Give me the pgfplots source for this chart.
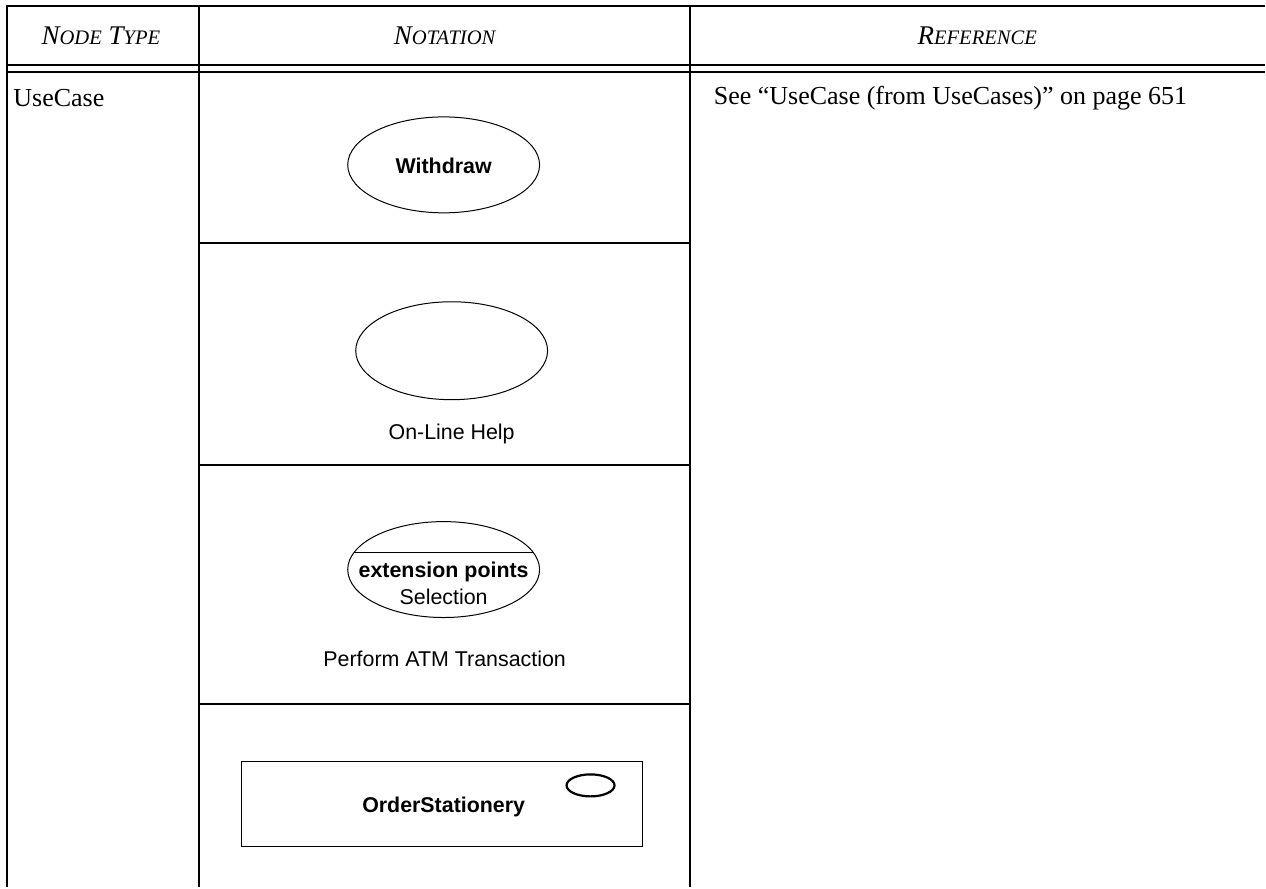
\documentclass[border=0pt]{standalone}
\usepackage{fontspec}
\setmainfont{Liberation Serif}
\newfontfamily\sans{Liberation Sans}
\usepackage{pgfplots}
\pgfplotsset{compat=1.18}
\begin{document}
\begin{tikzpicture}
\begin{axis}[
  scale only axis, width=633pt, height=444pt,
  xmin=0, xmax=1266, ymin=0, ymax=888, y dir=reverse,
  hide axis, clip=false,
]
\path (axis cs:0,0) rectangle (axis cs:1266,888);
% table frame
\addplot[black, line width=1pt] coordinates {(7,6) (1266,6)};
\addplot[black, line width=1pt] coordinates {(7,65) (1266,65)};
\addplot[black, line width=1pt] coordinates {(7,72) (1266,72)};
\addplot[black, line width=1pt] coordinates {(7,5.5) (7,888)};
\addplot[black, line width=1pt] coordinates {(199,5.5) (199,888)};
\addplot[black, line width=1pt] coordinates {(691,5.5) (691,888)};
\addplot[black, line width=1pt] coordinates {(199,243) (691,243)};
\addplot[black, line width=1pt] coordinates {(199,465) (691,465)};
\addplot[black, line width=1pt] coordinates {(199,705) (691,705)};
% header
\node[font=\fontsize{13.5}{15}\selectfont\itshape] at (axis cs:101,36) {N{\fontsize{10.3}{12}\selectfont ODE} T{\fontsize{10.3}{12}\selectfont YPE}};
\node[font=\fontsize{13.5}{15}\selectfont\itshape] at (axis cs:445,36) {N{\fontsize{10.3}{12}\selectfont OTATION}};
\node[font=\fontsize{13.5}{15}\selectfont\itshape] at (axis cs:978,36) {R{\fontsize{10.3}{12}\selectfont EFERENCE}};
% body text
\node[anchor=west, font=\fontsize{13}{15}\selectfont, inner sep=0pt] at (axis cs:13,98) {UseCase};
\node[anchor=west, font=\fontsize{13}{15}\selectfont, inner sep=0pt] at (axis cs:714,98) {See ``UseCase (from UseCases)'' on page 651};
% notation 1
\draw[line width=0.5pt] (axis cs:444,165) ellipse [x radius=96, y radius=48];
\node[font=\sans\bfseries\fontsize{10.7}{12}\selectfont] at (axis cs:444,166) {Withdraw};
% notation 2
\draw[line width=0.5pt] (axis cs:452,351) ellipse [x radius=96, y radius=49];
\node[font=\sans\fontsize{10.7}{12}\selectfont] at (axis cs:452,434) {On-Line Help};
% notation 3
\draw[line width=0.5pt] (axis cs:444,570) ellipse [x radius=96, y radius=48];
\addplot[black, line width=0.5pt] coordinates {(354,553) (534,553)};
\node[font=\sans\bfseries\fontsize{10.7}{12}\selectfont] at (axis cs:444,572) {extension points};
\node[font=\sans\fontsize{10.7}{12}\selectfont] at (axis cs:444,597) {Selection};
\node[font=\sans\fontsize{10.7}{12}\selectfont] at (axis cs:445,659) {Perform ATM Transaction};
% notation 4
\addplot[black, line width=0.5pt] coordinates {(242,762) (643,762) (643,847) (242,847) (242,762)};
\draw[line width=1.1pt] (axis cs:591,786) ellipse [x radius=24, y radius=11];
\node[font=\sans\bfseries\fontsize{10.7}{12}\selectfont] at (axis cs:444,808) {OrderStationery};
\end{axis}
\end{tikzpicture}
\end{document}
